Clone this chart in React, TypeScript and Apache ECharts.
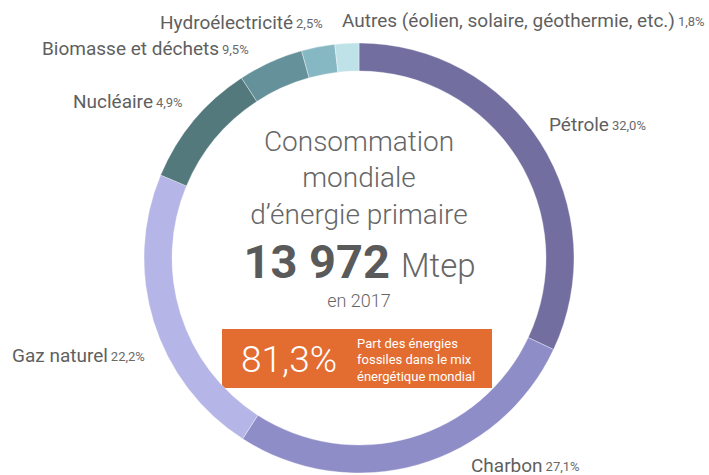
import React, { useEffect, useRef } from "react";
import * as echarts from "echarts";

const categories = [
  "Pétrole",
  "Charbon",
  "Gaz naturel",
  "Biomasse et déchets",
  "Nucléaire",
  "Hydroélectricité",
  "Autres (éolien, solaire, géothermie, etc.)",
];
const shares = [32.0, 27.1, 22.2, 9.5, 4.9, 2.5, 1.8];
const colors = ["#726FA0", "#8F8DC8", "#B6B5E7", "#54797C", "#64919A", "#86B8C3", "#BFE2E9"];
const totalLabel = "13 972";
const unitLabel = "Mtep";
const yearLabel = "en 2017";
const fossilShare = "81,3%";
const titleLines = ["Consommation", "mondiale", "d’énergie primaire"];
const fossilLines = ["Part des énergies", "fossiles dans le mix", "énergétique mondial"];

// label anchor positions (left edge, vertical middle)
const labelPos: Record<string, [number, number]> = {
  "Pétrole": [549, 124],
  "Charbon": [471, 465],
  "Gaz naturel": [12, 355],
  "Biomasse et déchets": [42, 48],
  "Nucléaire": [73, 101],
  "Hydroélectricité": [160, 22],
  "Autres (éolien, solaire, géothermie, etc.)": [342, 20],
};

const FONT = "Roboto, 'Noto Sans', sans-serif";

export default function App() {
  const ref = useRef<HTMLDivElement>(null);
  useEffect(() => {
    if (!ref.current) return;
    const chart = echarts.init(ref.current, null, { renderer: "svg" });
    const cx = 359;
    chart.setOption({
      animation: false,
      backgroundColor: "#ffffff",
      series: [
        {
          type: "pie",
          center: [cx, 258],
          radius: [187, 215],
          startAngle: 90,
          clockwise: true,
          avoidLabelOverlap: false,
          silent: true,
          data: categories.map((c, i) => ({
            name: c,
            value: shares[i],
            itemStyle: { color: colors[i] },
          })),
          itemStyle: { borderColor: "rgba(255,255,255,0.6)", borderWidth: 0.6 },
          label: {
            show: true,
            position: "outside",
            fontFamily: FONT,
            formatter: (p: any) =>
              `{n|${p.name}} {p|${shares[p.dataIndex].toFixed(1).replace(".", ",")}%}`,
            rich: {
              n: { fontSize: 19, color: "#5f5f5f", fontFamily: FONT },
              p: { fontSize: 13, color: "#6a6a6a", fontFamily: FONT, padding: [3, 0, 0, 0] },
            },
          },
          labelLine: { show: false },
          labelLayout: (params: any) => {
            const name = categories[params.dataIndex];
            const pos = labelPos[name];
            return { x: pos[0], y: pos[1], align: "left", verticalAlign: "middle" };
          },
        },
      ],
      graphic: [
        ...titleLines.map((t, i) => ({
          type: "text",
          x: cx,
          y: 141 + i * 36.5,
          style: {
            text: t,
            fontSize: 28,
            fontWeight: 300,
            fontFamily: FONT,
            fill: "#666666",
            align: "center",
            verticalAlign: "middle",
          },
        })),
        {
          type: "text",
          x: 390,
          y: 261,
          style: {
            text: totalLabel,
            fontSize: 47,
            fontWeight: "bold",
            fontFamily: FONT,
            fill: "#5a5a5a",
            align: "right",
            verticalAlign: "middle",
          },
        },
        {
          type: "text",
          x: 401,
          y: 265,
          style: {
            text: unitLabel,
            fontSize: 33,
            fontWeight: 300,
            fontFamily: FONT,
            fill: "#666666",
            align: "left",
            verticalAlign: "middle",
          },
        },
        {
          type: "text",
          x: cx,
          y: 300,
          style: {
            text: yearLabel,
            fontSize: 18,
            fontWeight: 300,
            fontFamily: FONT,
            fill: "#666666",
            align: "center",
            verticalAlign: "middle",
          },
        },
        {
          type: "rect",
          shape: { x: 222, y: 329, width: 270, height: 59 },
          style: { fill: "#E36C30" },
        },
        {
          type: "text",
          x: 289,
          y: 359,
          style: {
            text: fossilShare,
            fontSize: 37,
            fontWeight: 300,
            fontFamily: FONT,
            fill: "#ffffff",
            align: "center",
            verticalAlign: "middle",
          },
        },
        ...fossilLines.map((t, i) => ({
          type: "text",
          x: 357,
          y: 343 + i * 16.5,
          style: {
            text: t,
            fontSize: 13,
            fontFamily: FONT,
            fill: "#ffffff",
            align: "left",
            verticalAlign: "middle",
          },
        })),
      ],
    });
    return () => chart.dispose();
  }, []);
  return (
    <div
      ref={ref}
      style={{ position: "fixed", left: 0, top: 0, width: 709, height: 475 }}
    />
  );
}
